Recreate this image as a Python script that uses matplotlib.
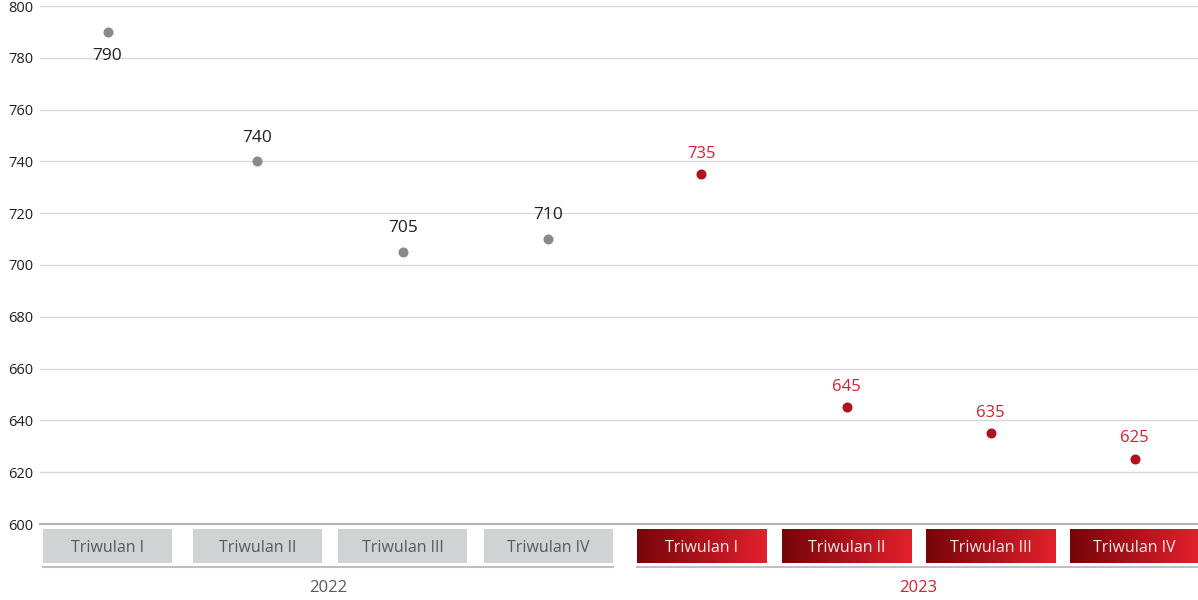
import matplotlib.pyplot as plt
from matplotlib.patches import Rectangle
from matplotlib.colors import LinearSegmentedColormap
import numpy as np

plt.rcParams['font.family'] = ['Open Sans', 'DejaVu Sans']

# data
quarters = ['Triwulan I', 'Triwulan II', 'Triwulan III', 'Triwulan IV']
years = ['2022', '2023']
values_2022 = [790, 740, 705, 710]
values_2023 = [735, 645, 635, 625]
yticks = [600, 620, 640, 660, 680, 700, 720, 740, 760, 780, 800]

GRAY_DOT = '#8a8a8a'
RED_DOT = '#b3121c'
RED_TXT = '#d6202e'
GRAY_TXT = '#58595b'
GRID = '#d9d9d9'

# posisi x tiap kotak (grup kedua sedikit digeser)
pos_2022 = np.array([0, 1.03, 2.03, 3.03])
pos_2023 = np.array([4.08, 5.08, 6.07, 7.06])
box_w = 0.887
xlim = (-0.464, 7.495)

fig = plt.figure(figsize=(11.98, 6.0), dpi=100)
ax = fig.add_axes([40 / 1198, 76 / 600, 1 - 40 / 1198, 518 / 600])

ax.set_xlim(*xlim)
ax.set_ylim(600, 800)
ax.set_yticks(yticks)
ax.set_xticks([])
ax.grid(axis='y', color=GRID, linewidth=1)
ax.set_axisbelow(True)
for s in ['top', 'right', 'left']:
    ax.spines[s].set_visible(False)
ax.spines['bottom'].set_color('#b3b3b3')
ax.spines['bottom'].set_linewidth(1.6)
ax.tick_params(axis='y', length=0, pad=5, labelsize=10.5, labelcolor='#231f20')

ax.scatter(pos_2022, values_2022, s=52, color=GRAY_DOT, zorder=3, linewidths=0)
ax.scatter(pos_2023, values_2023, s=52, color=RED_DOT, zorder=3, linewidths=0)

for x, v in zip(pos_2022, values_2022):
    off = -17 if v == max(values_2022) else 17
    ax.annotate(f'{v}', (x, v), xytext=(0, off), textcoords='offset points',
                ha='center', va='center', fontsize=12.5, color='#231f20')
for x, v in zip(pos_2023, values_2023):
    ax.annotate(f'{v}', (x, v), xytext=(0, 15), textcoords='offset points',
                ha='center', va='center', fontsize=12, color=RED_TXT)

# kotak kategori di bawah sumbu
bx = fig.add_axes([40 / 1198, 37 / 600, 1 - 40 / 1198, 34 / 600])
bx.axis('off')

grad = LinearSegmentedColormap.from_list('merah', ['#760508', '#e4202e'])
gradient = np.linspace(0, 1, 256).reshape(1, -1)

for x, q in zip(pos_2022, quarters):
    bx.add_patch(Rectangle((x - box_w / 2, 0), box_w, 1, facecolor='#d1d2d4',
                           edgecolor='none'))
    bx.text(x, 0.45, q, ha='center', va='center', fontsize=11.5, color=GRAY_TXT)
for x, q in zip(pos_2023, quarters):
    bx.imshow(gradient, cmap=grad, aspect='auto',
              extent=(x - box_w / 2, x + box_w / 2, 0, 1))
    bx.text(x, 0.45, q, ha='center', va='center', fontsize=11.5, color='#f7ecec')
bx.set_xlim(*xlim)
bx.set_ylim(0, 1)

# garis grup dan label tahun
for pos, yr, col in [(pos_2022, years[0], GRAY_TXT), (pos_2023, years[1], RED_TXT)]:
    x0, x1 = pos[0] - box_w / 2, pos[-1] + box_w / 2
    bx.plot([x0, x1], [-0.12, -0.12], color='#bfbfbf', linewidth=1.5, clip_on=False)
    bx.text((x0 + x1) / 2, -0.75, yr, ha='center', va='center', fontsize=12, color=col)

fig.savefig('out.png', dpi=100)
